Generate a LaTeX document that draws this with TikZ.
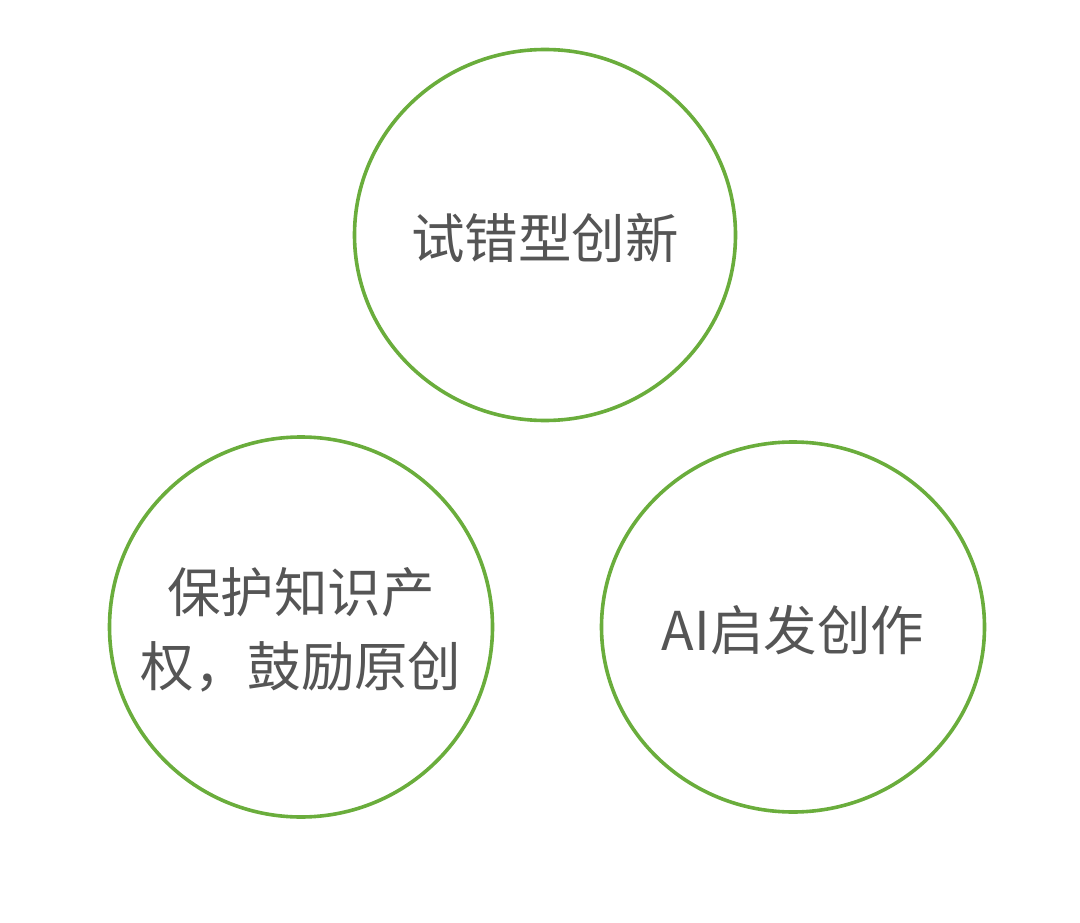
\documentclass[tikz,border=0pt]{standalone}
\usepackage{fontspec}
\setmainfont{Noto Sans CJK SC}
\usetikzlibrary{shapes.geometric}
\definecolor{ringgreen}{HTML}{6AAD3C}
\definecolor{txtgray}{HTML}{555555}
\begin{document}
\begin{tikzpicture}[x=1pt,y=-1pt,
  ring/.style={draw=ringgreen,line width=3.6pt,ellipse,inner sep=0pt,
    minimum width=#1},
  lbl/.style={text=txtgray,font=\fontsize{53.5}{74}\selectfont,align=center}]
\useasboundingbox (0,0) rectangle (1080,923);
\node[ring=381pt,minimum height=371pt] (top) at (545,235) {};
\node[ring=383pt,minimum height=380pt] (left) at (301,627) {};
\node[ring=383pt,minimum height=370pt] (right) at (793,627) {};
\node[lbl] (ttop) at ([yshift=-3pt]top) {试错型创新};
\node[lbl] (tleft) at ([yshift=-3pt]left) {保护知识产\\权，鼓励原创};
\node[lbl] (tright) at ([yshift=-3pt]right) {AI启发创作};
\end{tikzpicture}
\end{document}
